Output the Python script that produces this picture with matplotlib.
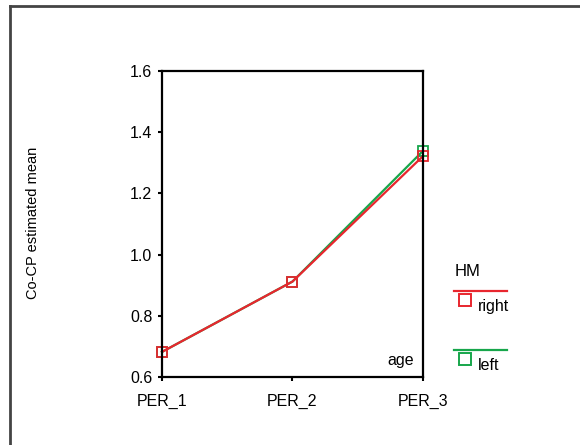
import matplotlib
matplotlib.use("Agg")
import matplotlib.pyplot as plt
from matplotlib.lines import Line2D

plt.rcParams['font.family'] = ['Liberation Sans', 'DejaVu Sans']

periods = ["PER_1", "PER_2", "PER_3"]
right_vals = [0.682, 0.912, 1.322]
left_vals = [0.682, 0.912, 1.339]
y_ticks = [0.6, 0.8, 1.0, 1.2, 1.4, 1.6]

red = "#e8262e"
green = "#17a64b"

fig = plt.figure(figsize=(5.8, 4.45), dpi=100)
ax = fig.add_axes([0.2793, 0.1528, 0.45, 0.6876])

x = list(range(len(periods)))
ax.plot(x, left_vals, color=green, lw=1.6, marker="s", markersize=6.5,
        markerfacecolor="none", markeredgecolor=green, markeredgewidth=1.3, clip_on=False)
ax.plot(x, right_vals, color=red, lw=1.6, marker="s", markersize=6.5,
        markerfacecolor="none", markeredgecolor=red, markeredgewidth=1.3, clip_on=False)

ax.set_xlim(0, 2)
ax.set_ylim(0.6, 1.6)
ax.set_xticks(x)
ax.set_xticklabels(periods, fontsize=11.5)
ax.set_yticks(y_ticks)
ax.set_yticklabels([f"{v:.1f}" for v in y_ticks], fontsize=11.5)
ax.tick_params(direction="out", length=3, width=1.5)
ax.tick_params(axis="x", pad=9)
ax.tick_params(axis="y", pad=4)
for s in ax.spines.values():
    s.set_linewidth(1.6)
    s.set_color("black")

ax.text(0.965, 0.03, "age", transform=ax.transAxes, ha="right", va="bottom", fontsize=11.5)
fig.text(0.057, 0.5, "Co-CP estimated mean", rotation=90, ha="center", va="center", fontsize=10.5)

# legend
fig.text(455 / 580, 1 - 272 / 445, "HM", fontsize=12, ha="left", va="center")
fig.add_artist(Line2D([454 / 580, 507 / 580], [1 - 291 / 445] * 2, color=red, lw=1.6))
fig.add_artist(Line2D([465 / 580], [1 - 300 / 445], color=red, marker="s", markersize=9,
                      markerfacecolor="none", markeredgewidth=1.4))
fig.text(478 / 580, 1 - 306 / 445, "right", fontsize=11.5, ha="left", va="center")
fig.add_artist(Line2D([454 / 580, 507 / 580], [1 - 350 / 445] * 2, color=green, lw=1.6))
fig.add_artist(Line2D([465 / 580], [1 - 359 / 445], color=green, marker="s", markersize=9,
                      markerfacecolor="none", markeredgewidth=1.4))
fig.text(478 / 580, 1 - 366 / 445, "left", fontsize=11.5, ha="left", va="center")

# outer frame (top and left only)
fig.add_artist(Line2D([10 / 580, 10 / 580], [0, 1 - 6 / 445], color="#444444", lw=2))
fig.add_artist(Line2D([10 / 580, 1], [1 - 6 / 445] * 2, color="#444444", lw=2))

fig.savefig("out.png", dpi=100)
